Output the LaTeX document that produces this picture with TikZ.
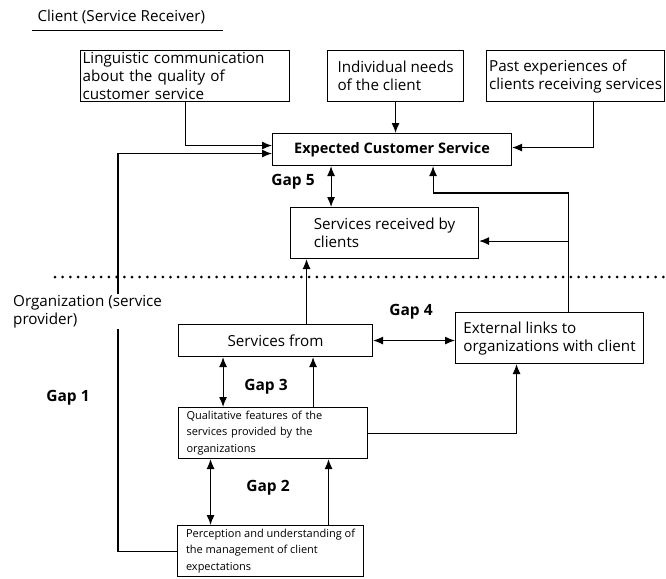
\documentclass[tikz,border=0pt]{standalone}
\usepackage{fontspec}
\setmainfont{Open Sans}
\usetikzlibrary{arrows.meta}

\begin{document}
\begin{tikzpicture}[x=1pt,y=-1pt,
  box/.style={draw, line width=1.1pt, anchor=north west, align=left, inner sep=2pt,
    font=\fontsize{15.2}{18}\selectfont},
  smallbox/.style={box, font=\fontsize{11}{16.5}\selectfont},
  gap/.style={font=\bfseries\fontsize{15.5}{18}\selectfont},
  arr/.style={line width=1.1pt, -{Latex[length=10pt,width=8pt]}},
  dbl/.style={line width=1.1pt, {Latex[length=10pt,width=8pt]}-{Latex[length=10pt,width=8pt]}}]
\useasboundingbox (0,0) rectangle (666,578);

% client side
\node[anchor=west, font=\fontsize{15.2}{18}\selectfont] (client) at (34,17) {Client (Service Receiver)};
\draw[line width=1pt] ([xshift=-2pt,yshift=-3pt]client.south west) -- ([xshift=14pt,yshift=-3pt]client.south east);

\node[box, text width=205pt, minimum height=51pt] (talk) at (80,50)
  {Linguistic communication\\about the quality of\\customer service};
\node[box, minimum width=136pt, minimum height=51pt] (need) at (327,50)
  {Individual needs\\of the client};
\node[box, inner xsep=0pt, minimum width=178pt, minimum height=51pt] (past) at (486,50)
  {Past experiences of\\clients receiving services};
\node[box, align=center, minimum width=239pt, minimum height=32pt, font=\bfseries\fontsize{14.5}{17}\selectfont] (expect) at (272,133)
  {Expected Customer Service};
\node[box, minimum width=188pt, minimum height=51pt] (recv) at (290,207)
  {Services received by\\clients};

% organization side
\coordinate (sepL) at (55,277);
\coordinate (sepR) at (666,277);
\draw[line width=3pt, line cap=round, dash pattern=on 0pt off 7.7pt] (sepL) -- (sepR);

\node[box, align=center, minimum width=194pt, minimum height=32pt] (from) at (178,324)
  {Services from};
\node[box, minimum width=188pt, minimum height=51pt] (ext) at (455,312)
  {External links to\\organizations with client};
\node[smallbox, inner xsep=8pt, text width=173pt, minimum height=51pt] (qual) at (178,407)
  {Qualitative features of the\\services provided by the\\organizations};
\node[smallbox, minimum width=186pt, minimum height=51pt] (perc) at (177,525)
  {Perception and understanding of\\the management of client\\expectations};

% connectors
\draw[arr] (talk.south) |- ([yshift=4pt]expect.west);
\draw[arr] (need.south) -- (need.south |- expect.north);
\draw[arr] ([xshift=18pt]past.south) |- ([yshift=2pt]expect.east);
\draw[arr] (perc.west) -- ++(-59,0) |- ([yshift=-4pt]expect.west);
\draw[arr] ([xshift=19pt]ext.north) -- ++(0,-119) -| ([xshift=41pt]expect.south);
\draw[arr] ([xshift=19pt]ext.north) |- ([yshift=-8pt]recv.east);
\draw[dbl] ([xshift=-61pt]expect.south) -- ([xshift=-61pt]expect.south |- recv.north);
\draw[arr] ([xshift=31pt]from.north) -- ([xshift=31pt]from.north |- recv.south);
\draw[dbl] (from.east) -- (from.east -| ext.west);
\draw[dbl] ([xshift=-50pt]qual.north) -- ([xshift=-50pt]qual.north |- from.south);
\draw[arr] ([xshift=40pt]qual.north) -- ([xshift=40pt]qual.north |- from.south);
\draw[arr] (qual.east) -| ([xshift=-33pt]ext.south);
\draw[dbl] ([xshift=-60pt]perc.north) -- ([xshift=-60pt]perc.north |- qual.south);
\draw[arr] ([xshift=58pt]perc.north) -- ([xshift=58pt]perc.north |- qual.south);

\node[anchor=north west, align=left, fill=white, inner sep=1pt, font=\fontsize{15.2}{18}\selectfont] (org) at (12,294)
  {Organization (service\\provider)};

% gaps
\node[gap] (g5) at (293,182) {Gap 5};
\node[gap] (g4) at (411,312) {Gap 4};
\node[gap] (g3) at (266,387) {Gap 3};
\node[gap] (g2) at (268,488) {Gap 2};
\node[gap] (g1) at (68,398) {Gap 1};
\end{tikzpicture}
\end{document}
